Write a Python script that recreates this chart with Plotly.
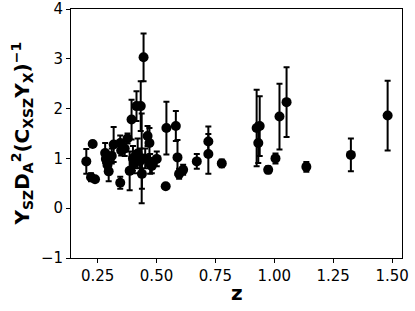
import plotly.graph_objects as go

# Données : redshift, rapport et erreur
z = [0.202, 0.229, 0.222, 0.239, 0.282, 0.285, 0.292, 0.297, 0.310, 0.318,
     0.346, 0.346, 0.350, 0.377, 0.386, 0.394, 0.400, 0.405, 0.415, 0.433,
     0.445, 0.438, 0.462, 0.470, 0.473, 0.480, 0.501, 0.539, 0.542, 0.582,
     0.589, 0.596, 0.613, 0.671, 0.720, 0.720, 0.777, 0.925, 0.938, 0.932,
     0.974, 1.005, 1.022, 1.052, 1.136, 1.325, 1.481, 0.420, 0.430, 0.452,
     0.437, 0.365]
ratio = [0.94, 1.29, 0.62, 0.58, 1.11, 0.99, 0.87, 0.74, 1.05, 1.28,
         0.51, 1.31, 1.16, 1.40, 0.75, 1.78, 1.00, 0.90, 2.05, 2.05,
         3.03, 0.69, 1.45, 1.31, 0.89, 0.85, 0.99, 0.44, 1.61, 1.65,
         1.02, 0.69, 0.77, 0.94, 1.34, 1.09, 0.90, 1.61, 1.65, 1.31,
         0.77, 1.00, 1.84, 2.13, 0.83, 1.07, 1.86, 1.10, 0.95, 1.00,
         1.00, 1.20]
err = [0.25, 0.05, 0.08, 0.05, 0.20, 0.15, 0.15, 0.20, 0.15, 0.35,
       0.12, 0.15, 0.10, 0.10, 0.39, 0.40, 0.25, 0.20, 0.30, 0.50,
       0.48, 0.30, 0.20, 0.30, 0.20, 0.15, 0.15, 0.02, 0.53, 0.30,
       0.35, 0.10, 0.10, 0.15, 0.30, 0.40, 0.08, 0.77, 0.60, 0.40,
       0.07, 0.10, 0.66, 0.70, 0.10, 0.33, 0.70, 0.30, 0.25, 0.20,
       0.90, 0.15]

x_ticks = [0.25, 0.5, 0.75, 1.0, 1.25, 1.5]
x_labels = ['0.25', '0.50', '0.75', '1.00', '1.25', '1.50']

fig = go.Figure()
fig.add_trace(go.Scatter(
    x=z, y=ratio, mode='markers',
    marker=dict(color='black', size=10),
    error_y=dict(type='data', array=err, color='black', thickness=2, width=3),
))

fig.update_layout(
    width=415, height=311,
    margin=dict(l=71, r=13, t=9, b=53),
    paper_bgcolor='white', plot_bgcolor='white',
    showlegend=False,
    font=dict(family='DejaVu Sans', color='black', size=15),
)
fig.update_xaxes(
    range=[0.137, 1.542], tickvals=x_ticks, ticktext=x_labels,
    ticks='outside', ticklen=4, tickcolor='black',
    showline=True, linecolor='black', linewidth=1, mirror=True,
    showgrid=False, zeroline=False, automargin=False,
)
fig.update_yaxes(
    range=[-1, 4], dtick=1, ticks='outside', ticklen=4, tickcolor='black',
    showline=True, linecolor='black', linewidth=1, mirror=True,
    showgrid=False, zeroline=False, automargin=False,
)

# titres des axes placés à la main
fig.add_annotation(text='<b>z</b>', xref='paper', yref='paper', x=0.5, y=-0.14,
                   showarrow=False, font=dict(size=20), yanchor='middle')
fig.add_annotation(
    text='<b>Y<sub>SZ</sub>D<sub>A</sub><sup>2</sup>(C<sub>XSZ</sub>Y<sub>X</sub>)<sup>−1</sup></b>',
    xref='paper', yref='paper', x=-0.148, y=0.5, textangle=-90,
    showarrow=False, font=dict(size=20), xanchor='center', yanchor='middle')

# pas de marge du body pour que la figure soit calée en haut à gauche
fig.write_html("out.html", config={'displayModeBar': False},
               post_script="document.body.style.margin='0';")
